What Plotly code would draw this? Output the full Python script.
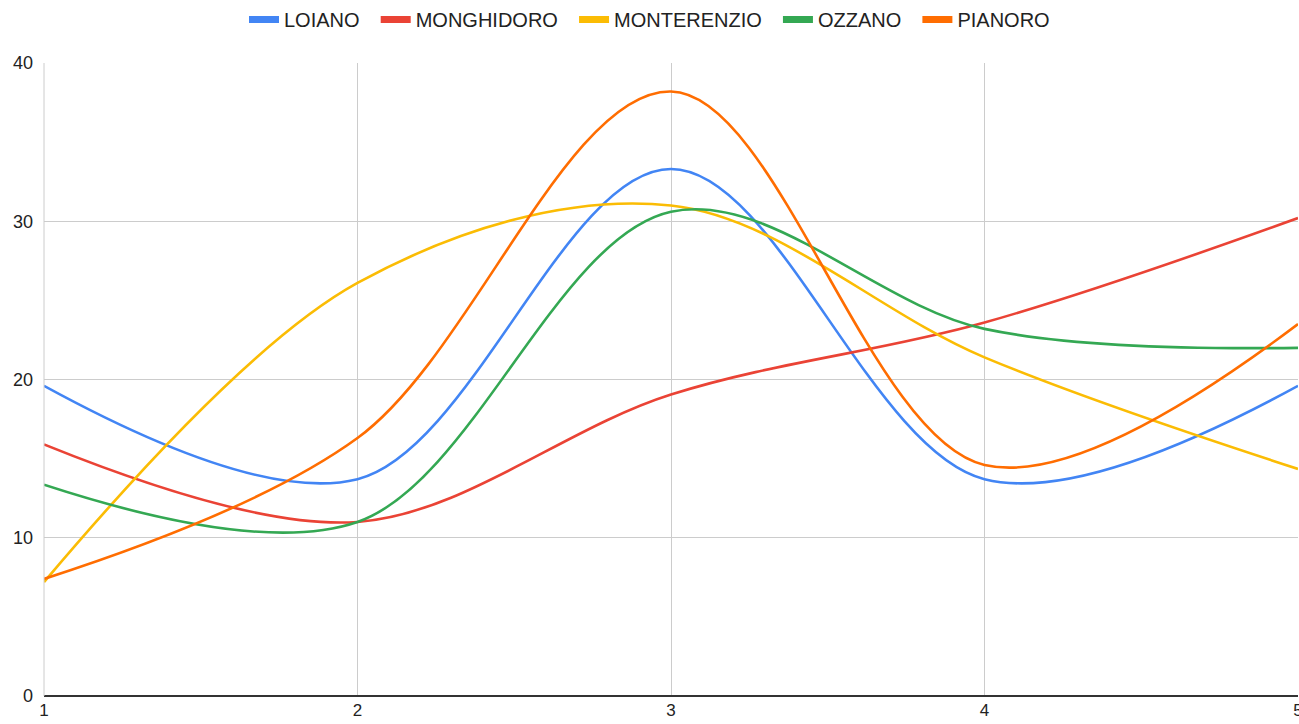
import plotly.graph_objects as go

x_vals = [1, 2, 3, 4, 5]
loiano = [19.6, 13.7, 33.3, 13.7, 19.6]
monghidoro = [15.9, 11.0, 19.05, 23.6, 30.2]
monterenzio = [7.2, 26.1, 31.0, 21.4, 14.35]
ozzano = [13.35, 11.0, 30.6, 23.2, 22.0]
pianoro = [7.4, 16.3, 38.2, 14.6, 23.5]

series_names = ["LOIANO", "MONGHIDORO", "MONTERENZIO", "OZZANO", "PIANORO"]
series_vals = [loiano, monghidoro, monterenzio, ozzano, pianoro]
colors = ["#4285F4", "#EA4335", "#FBBC04", "#34A853", "#FF6D01"]

fig = go.Figure()
for name, vals, c in zip(series_names, series_vals, colors):
    fig.add_trace(go.Scatter(
        x=x_vals, y=vals, name=name, mode="lines",
        line=dict(color=c, width=2.6, shape="spline", smoothing=1.0),
        showlegend=False, cliponaxis=False,
    ))
pad = "\u00a0\u00a0"
for i, (name, c) in enumerate(zip(series_names, colors)):
    label = name + (pad if i < len(series_names) - 1 else "")
    fig.add_trace(go.Scatter(
        x=[None], y=[None], name=label, mode="lines",
        line=dict(color=c, width=7),
        showlegend=True,
    ))

fig.update_layout(
    width=1299, height=724,
    margin=dict(l=44, r=1, t=63, b=28, autoexpand=False),
    paper_bgcolor="white", plot_bgcolor="white",
    font=dict(family="Liberation Sans, Arial, sans-serif", size=18, color="#222222"),
    legend=dict(orientation="h", x=0.5, xanchor="center", y=1.0, yanchor="top",
                xref="container", yref="container",
                font=dict(size=20, color="#222222"),
                itemwidth=30, traceorder="normal"),
    showlegend=True,
)
fig.update_xaxes(range=[1, 5], tickvals=[1, 2, 3, 4, 5], showgrid=True,
                 gridcolor="#cccccc", gridwidth=1, zeroline=False,
                 showline=False, ticks="", ticklabelstandoff=2,
                 ticklabeloverflow="allow",
                 tickfont=dict(size=17), automargin=False)
fig.update_yaxes(range=[0, 40], tickvals=[0, 10, 20, 30, 40], showgrid=True,
                 gridcolor="#cccccc", gridwidth=1, zeroline=True,
                 zerolinecolor="#333333", zerolinewidth=1.5,
                 showline=False, ticks="", ticklabelstandoff=10, automargin=False)
fig.add_shape(type="line", xref="paper", yref="paper", x0=0, x1=0, y0=0, y1=1,
              line=dict(color="#cccccc", width=1))

fig.write_html("out.html", config={"displayModeBar": False},
               post_script="document.body.style.margin='0';document.body.style.overflow='hidden';")
